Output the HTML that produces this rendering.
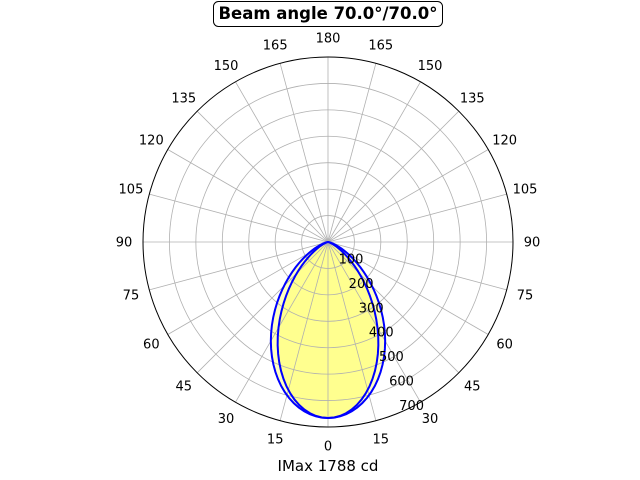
<!DOCTYPE html>
<html><head><meta charset="utf-8"><style>
body{margin:0;background:#fff}
svg{display:block;font-family:"DejaVu Sans","Liberation Sans",sans-serif}
</style></head><body>
<svg id="s" width="640" height="480" xmlns="http://www.w3.org/2000/svg">
<rect x="213.5" y="1.5" width="229" height="25" rx="5" fill="#fff" stroke="#000" stroke-width="1"/>
<text x="328" y="19" text-anchor="middle" font-size="16.5" font-weight="bold">Beam angle 70.0°/70.0°</text>
<text x="328" y="471" text-anchor="middle" font-size="15">IMax 1788 cd</text>
</svg>
<script>
var s=document.getElementById('s'),cx=328,cy=242,R=185,ns='http://www.w3.org/2000/svg';
function el(t,a,txt){var e=document.createElementNS(ns,t);for(var k in a)e.setAttribute(k,a[k]);if(txt!==undefined)e.textContent=txt;s.appendChild(e);return e;}
function curve(n){var p=[];for(var d=-90;d<=90;d+=2){var t=d*Math.PI/180,r=176*Math.pow(Math.cos(t),n);p.push((cx+r*Math.sin(t)).toFixed(2)+','+(cy+r*Math.cos(t)).toFixed(2));}return p.join(' ');}
el('polygon',{points:curve(3),fill:'#ffff00','fill-opacity':'0.25',stroke:'none'});
el('polygon',{points:curve(4),fill:'#ffff00','fill-opacity':'0.25',stroke:'none'});
for(var k=1;k<=6;k++)el('circle',{cx:cx,cy:cy,r:26.43*k,fill:'none',stroke:'#b0b0b0','stroke-width':0.8});
for(var a=0;a<360;a+=15){var t=a*Math.PI/180;el('line',{x1:cx,y1:cy,x2:cx+R*Math.sin(t),y2:cy+R*Math.cos(t),stroke:'#b0b0b0','stroke-width':0.8});}
el('polygon',{points:curve(3),fill:'none',stroke:'#0000ff','stroke-width':2});
el('polygon',{points:curve(4),fill:'none',stroke:'#0000ff','stroke-width':2});
el('circle',{cx:cx,cy:cy,r:R,fill:'none',stroke:'#000','stroke-width':1});
for(var a=0;a<=180;a+=15){[1,-1].forEach(function(sg){if((a==0||a==180)&&sg<0)return;var t=sg*a*Math.PI/180;
el('text',{x:cx+204*Math.sin(t),y:cy+204*Math.cos(t)+4.5,'text-anchor':'middle','font-size':13},String(a));});}
for(var k=1;k<=7;k++)el('text',{x:351+10.1*(k-1),y:259+24.4*(k-1)+4.5,'text-anchor':'middle','font-size':13},String(100*k));
</script>
</body></html>
